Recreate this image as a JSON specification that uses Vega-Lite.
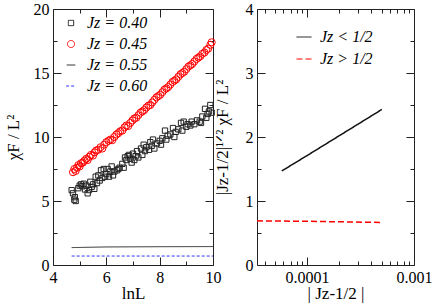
{
  "$schema": "https://vega.github.io/schema/vega-lite/v6.json",
  "background": "white",
  "padding": {"left": 3, "top": 0, "right": 4, "bottom": 2},
  "bounds": "flush",
  "spacing": 44,
  "config": {
    "view": {"stroke": "#222", "strokeWidth": 1},
    "axis": {"grid": false, "domain": false, "labelFont": "Liberation Serif, Times New Roman, serif", "labelFontSize": 16, "labelColor": "black", "titleFont": "Liberation Serif, Times New Roman, serif", "titleFontSize": 17, "titleFontWeight": "normal", "titleColor": "black", "tickColor": "#222", "labelFlush": false, "labelOverlap": false, "labelPadding": 12},
    "legend": {"labelFont": "Liberation Serif, Times New Roman, serif", "labelFontSize": 16, "labelFontStyle": "italic", "labelColor": "black", "padding": 0, "rowPadding": 5, "labelOffset": 8, "symbolStrokeWidth": 1}
  },
  "datasets": {
    "pts": [
      {"x":4.75,"y":7.25,"s":"Jz = 0.45"},{"x":4.80,"y":7.5,"s":"Jz = 0.45"},{"x":4.85,"y":7.35,"s":"Jz = 0.45"},{"x":4.90,"y":7.6,"s":"Jz = 0.45"},{"x":4.95,"y":7.8,"s":"Jz = 0.45"},{"x":5.00,"y":7.7,"s":"Jz = 0.45"},{"x":5.05,"y":7.95,"s":"Jz = 0.45"},{"x":5.12,"y":8.0,"s":"Jz = 0.45"},{"x":5.18,"y":8.15,"s":"Jz = 0.45"},{"x":5.25,"y":8.3,"s":"Jz = 0.45"},{"x":5.30,"y":8.2,"s":"Jz = 0.45"},{"x":5.36,"y":8.45,"s":"Jz = 0.45"},{"x":5.42,"y":8.6,"s":"Jz = 0.45"},{"x":5.50,"y":8.55,"s":"Jz = 0.45"},{"x":5.56,"y":8.8,"s":"Jz = 0.45"},{"x":5.62,"y":8.95,"s":"Jz = 0.45"},{"x":5.70,"y":9.0,"s":"Jz = 0.45"},{"x":5.78,"y":9.2,"s":"Jz = 0.45"},{"x":5.85,"y":9.1,"s":"Jz = 0.45"},{"x":5.92,"y":9.4,"s":"Jz = 0.45"},{"x":6.00,"y":9.6,"s":"Jz = 0.45"},{"x":6.08,"y":9.7,"s":"Jz = 0.45"},{"x":6.15,"y":9.8,"s":"Jz = 0.45"},{"x":6.22,"y":9.75,"s":"Jz = 0.45"},{"x":6.30,"y":10.0,"s":"Jz = 0.45"},{"x":6.38,"y":10.2,"s":"Jz = 0.45"},{"x":6.45,"y":10.3,"s":"Jz = 0.45"},{"x":6.52,"y":10.45,"s":"Jz = 0.45"},{"x":6.60,"y":10.5,"s":"Jz = 0.45"},{"x":6.68,"y":10.75,"s":"Jz = 0.45"},{"x":6.75,"y":10.9,"s":"Jz = 0.45"},{"x":6.82,"y":10.85,"s":"Jz = 0.45"},{"x":6.90,"y":11.1,"s":"Jz = 0.45"},{"x":6.98,"y":11.3,"s":"Jz = 0.45"},{"x":7.05,"y":11.45,"s":"Jz = 0.45"},{"x":7.12,"y":11.5,"s":"Jz = 0.45"},{"x":7.20,"y":11.7,"s":"Jz = 0.45"},{"x":7.28,"y":11.9,"s":"Jz = 0.45"},{"x":7.35,"y":12.0,"s":"Jz = 0.45"},{"x":7.42,"y":12.1,"s":"Jz = 0.45"},{"x":7.50,"y":12.3,"s":"Jz = 0.45"},{"x":7.58,"y":12.45,"s":"Jz = 0.45"},{"x":7.65,"y":12.5,"s":"Jz = 0.45"},{"x":7.72,"y":12.7,"s":"Jz = 0.45"},{"x":7.80,"y":12.9,"s":"Jz = 0.45"},{"x":7.88,"y":13.1,"s":"Jz = 0.45"},{"x":7.95,"y":13.2,"s":"Jz = 0.45"},{"x":8.02,"y":13.3,"s":"Jz = 0.45"},{"x":8.10,"y":13.5,"s":"Jz = 0.45"},{"x":8.18,"y":13.7,"s":"Jz = 0.45"},{"x":8.25,"y":13.8,"s":"Jz = 0.45"},{"x":8.32,"y":13.9,"s":"Jz = 0.45"},{"x":8.40,"y":14.1,"s":"Jz = 0.45"},{"x":8.48,"y":14.3,"s":"Jz = 0.45"},{"x":8.55,"y":14.4,"s":"Jz = 0.45"},{"x":8.62,"y":14.5,"s":"Jz = 0.45"},{"x":8.70,"y":14.7,"s":"Jz = 0.45"},{"x":8.78,"y":14.9,"s":"Jz = 0.45"},{"x":8.85,"y":15.0,"s":"Jz = 0.45"},{"x":8.92,"y":15.1,"s":"Jz = 0.45"},{"x":9.00,"y":15.3,"s":"Jz = 0.45"},{"x":9.08,"y":15.5,"s":"Jz = 0.45"},{"x":9.15,"y":15.6,"s":"Jz = 0.45"},{"x":9.22,"y":15.7,"s":"Jz = 0.45"},{"x":9.30,"y":15.9,"s":"Jz = 0.45"},{"x":9.38,"y":16.1,"s":"Jz = 0.45"},{"x":9.45,"y":16.2,"s":"Jz = 0.45"},{"x":9.52,"y":16.3,"s":"Jz = 0.45"},{"x":9.60,"y":16.5,"s":"Jz = 0.45"},{"x":9.68,"y":16.6,"s":"Jz = 0.45"},{"x":9.75,"y":16.8,"s":"Jz = 0.45"},{"x":9.82,"y":16.9,"s":"Jz = 0.45"},{"x":9.90,"y":17.2,"s":"Jz = 0.45"},{"x":9.95,"y":17.4,"s":"Jz = 0.45"},
      {"x":4.70,"y":5.85,"s":"Jz = 0.40"},{"x":4.75,"y":5.6,"s":"Jz = 0.40"},{"x":4.80,"y":5.1,"s":"Jz = 0.40"},{"x":4.82,"y":5.3,"s":"Jz = 0.40"},{"x":4.85,"y":5.0,"s":"Jz = 0.40"},{"x":4.95,"y":6.0,"s":"Jz = 0.40"},{"x":5.00,"y":6.2,"s":"Jz = 0.40"},{"x":5.05,"y":6.3,"s":"Jz = 0.40"},{"x":5.10,"y":6.15,"s":"Jz = 0.40"},{"x":5.15,"y":6.35,"s":"Jz = 0.40"},{"x":5.20,"y":5.9,"s":"Jz = 0.40"},{"x":5.25,"y":6.2,"s":"Jz = 0.40"},{"x":5.30,"y":5.6,"s":"Jz = 0.40"},{"x":5.35,"y":5.85,"s":"Jz = 0.40"},{"x":5.40,"y":6.5,"s":"Jz = 0.40"},{"x":5.45,"y":6.1,"s":"Jz = 0.40"},{"x":5.50,"y":6.3,"s":"Jz = 0.40"},{"x":5.55,"y":5.95,"s":"Jz = 0.40"},{"x":5.60,"y":6.9,"s":"Jz = 0.40"},{"x":5.65,"y":6.4,"s":"Jz = 0.40"},{"x":5.70,"y":7.0,"s":"Jz = 0.40"},{"x":5.75,"y":6.6,"s":"Jz = 0.40"},{"x":5.80,"y":7.4,"s":"Jz = 0.40"},{"x":5.85,"y":6.8,"s":"Jz = 0.40"},{"x":5.90,"y":7.5,"s":"Jz = 0.40"},{"x":5.95,"y":6.9,"s":"Jz = 0.40"},{"x":6.00,"y":7.1,"s":"Jz = 0.40"},{"x":6.05,"y":7.5,"s":"Jz = 0.40"},{"x":6.10,"y":6.9,"s":"Jz = 0.40"},{"x":6.15,"y":7.3,"s":"Jz = 0.40"},{"x":6.20,"y":7.7,"s":"Jz = 0.40"},{"x":6.25,"y":7.0,"s":"Jz = 0.40"},{"x":6.30,"y":7.3,"s":"Jz = 0.40"},{"x":6.40,"y":7.4,"s":"Jz = 0.40"},{"x":6.45,"y":7.5,"s":"Jz = 0.40"},{"x":6.50,"y":7.6,"s":"Jz = 0.40"},{"x":6.60,"y":7.9,"s":"Jz = 0.40"},{"x":6.65,"y":7.6,"s":"Jz = 0.40"},{"x":6.70,"y":8.4,"s":"Jz = 0.40"},{"x":6.75,"y":8.2,"s":"Jz = 0.40"},{"x":6.80,"y":8.5,"s":"Jz = 0.40"},{"x":6.85,"y":8.6,"s":"Jz = 0.40"},{"x":6.90,"y":8.3,"s":"Jz = 0.40"},{"x":6.95,"y":8.0,"s":"Jz = 0.40"},{"x":7.00,"y":8.7,"s":"Jz = 0.40"},{"x":7.05,"y":8.2,"s":"Jz = 0.40"},{"x":7.10,"y":8.5,"s":"Jz = 0.40"},{"x":7.15,"y":8.9,"s":"Jz = 0.40"},{"x":7.20,"y":8.4,"s":"Jz = 0.40"},{"x":7.30,"y":9.1,"s":"Jz = 0.40"},{"x":7.35,"y":8.6,"s":"Jz = 0.40"},{"x":7.40,"y":9.4,"s":"Jz = 0.40"},{"x":7.45,"y":8.9,"s":"Jz = 0.40"},{"x":7.50,"y":9.2,"s":"Jz = 0.40"},{"x":7.60,"y":9.0,"s":"Jz = 0.40"},{"x":7.65,"y":9.6,"s":"Jz = 0.40"},{"x":7.70,"y":9.3,"s":"Jz = 0.40"},{"x":7.75,"y":9.8,"s":"Jz = 0.40"},{"x":7.80,"y":9.1,"s":"Jz = 0.40"},{"x":7.90,"y":9.5,"s":"Jz = 0.40"},{"x":8.00,"y":9.7,"s":"Jz = 0.40"},{"x":8.05,"y":9.4,"s":"Jz = 0.40"},{"x":8.10,"y":9.9,"s":"Jz = 0.40"},{"x":8.20,"y":10.5,"s":"Jz = 0.40"},{"x":8.25,"y":9.8,"s":"Jz = 0.40"},{"x":8.30,"y":10.1,"s":"Jz = 0.40"},{"x":8.40,"y":10.2,"s":"Jz = 0.40"},{"x":8.50,"y":10.7,"s":"Jz = 0.40"},{"x":8.55,"y":10.0,"s":"Jz = 0.40"},{"x":8.60,"y":10.4,"s":"Jz = 0.40"},{"x":8.70,"y":10.6,"s":"Jz = 0.40"},{"x":8.80,"y":11.1,"s":"Jz = 0.40"},{"x":8.85,"y":10.5,"s":"Jz = 0.40"},{"x":8.90,"y":11.2,"s":"Jz = 0.40"},{"x":9.00,"y":10.8,"s":"Jz = 0.40"},{"x":9.05,"y":11.0,"s":"Jz = 0.40"},{"x":9.15,"y":10.9,"s":"Jz = 0.40"},{"x":9.20,"y":11.2,"s":"Jz = 0.40"},{"x":9.30,"y":11.0,"s":"Jz = 0.40"},{"x":9.40,"y":11.3,"s":"Jz = 0.40"},{"x":9.50,"y":11.2,"s":"Jz = 0.40"},{"x":9.55,"y":11.1,"s":"Jz = 0.40"},{"x":9.60,"y":11.6,"s":"Jz = 0.40"},{"x":9.70,"y":12.2,"s":"Jz = 0.40"},{"x":9.75,"y":11.5,"s":"Jz = 0.40"},{"x":9.80,"y":11.8,"s":"Jz = 0.40"},{"x":9.85,"y":12.0,"s":"Jz = 0.40"},{"x":9.90,"y":12.5,"s":"Jz = 0.40"},{"x":9.95,"y":11.9,"s":"Jz = 0.40"}
    ],
    "lns": [
      {"x":4.7,"y":1.36,"s":"Jz = 0.55"},{"x":6.0,"y":1.41,"s":"Jz = 0.55"},{"x":8.0,"y":1.43,"s":"Jz = 0.55"},{"x":10.0,"y":1.44,"s":"Jz = 0.55"},
      {"x":4.7,"y":0.7,"s":"Jz = 0.60"},{"x":10.0,"y":0.7,"s":"Jz = 0.60"}
    ],
    "right": [
      {"d":0.000058,"v":1.47,"c":"Jz < 1/2"},{"d":0.0001,"v":1.71,"c":"Jz < 1/2"},{"d":0.0002,"v":2.02,"c":"Jz < 1/2"},{"d":0.0005,"v":2.43,"c":"Jz < 1/2"},
      {"d":0.000034,"v":0.69,"c":"Jz > 1/2"},{"d":0.0001,"v":0.683,"c":"Jz > 1/2"},{"d":0.0005,"v":0.665,"c":"Jz > 1/2"}
    ]
  },
  "hconcat": [
    {
      "width": 160, "height": 256,
      "layer": [
        {
          "data": {"name": "pts"},
          "mark": {"type": "point", "filled": false, "strokeWidth": 1, "opacity": 1},
          "encoding": {
            "x": {"field": "x", "type": "quantitative", "scale": {"domain": [4, 10], "nice": false, "zero": false}, "axis": {"orient": "bottom", "values": [4, 6, 8, 10], "tickSize": -8, "title": "lnL", "titleY": 20}},
            "y": {"field": "y", "type": "quantitative", "scale": {"domain": [0, 20], "nice": false}, "axis": {"orient": "left", "values": [0, 5, 10, 15, 20], "tickSize": -8, "title": "χF / L²", "titleX": -31}},
            "color": {"field": "s", "type": "nominal", "scale": {"domain": ["Jz = 0.40", "Jz = 0.45", "Jz = 0.55", "Jz = 0.60"], "range": ["#222222", "#ff0000", "#222222", "#3333ff"]}, "legend": {"title": null, "orient": "none", "legendX": 10, "legendY": 6}},
            "shape": {"field": "s", "type": "nominal", "scale": {"domain": ["Jz = 0.40", "Jz = 0.45", "Jz = 0.55", "Jz = 0.60"], "range": ["square", "circle", "stroke", "stroke"]}, "legend": {"title": null, "orient": "none", "legendX": 10, "legendY": 6}},
            "size": {"field": "s", "type": "nominal", "scale": {"domain": ["Jz = 0.40", "Jz = 0.45", "Jz = 0.55", "Jz = 0.60"], "range": [28, 95, 169, 169]}, "legend": {"title": null, "orient": "none", "legendX": 10, "legendY": 6}}
          }
        },
        {
          "data": {"name": "lns"},
          "mark": {"type": "line", "strokeWidth": 1},
          "encoding": {
            "x": {"field": "x", "type": "quantitative", "axis": {"orient": "top", "values": [4, 6, 8, 10], "tickSize": -8, "labels": false, "title": null}},
            "y": {"field": "y", "type": "quantitative", "axis": {"orient": "right", "values": [0, 5, 10, 15, 20], "tickSize": -8, "labels": false, "title": null}},
            "color": {"field": "s", "type": "nominal", "scale": {"domain": ["Jz = 0.40", "Jz = 0.45", "Jz = 0.55", "Jz = 0.60"]}, "legend": {"title": null, "orient": "none", "legendX": 10, "legendY": 6}},
            "strokeDash": {"field": "s", "type": "nominal", "scale": {"domain": ["Jz = 0.40", "Jz = 0.45", "Jz = 0.55", "Jz = 0.60"], "range": [[1, 0], [1, 0], [1, 0], [3, 2]]}, "legend": {"title": null, "orient": "none", "legendX": 10, "legendY": 6}}
          }
        },
        {
          "data": {"name": "lns"},
          "mark": {"type": "line", "opacity": 0},
          "encoding": {
            "x": {"field": "x", "type": "quantitative", "axis": {"orient": "bottom", "values": [5, 7, 9], "tickSize": -4, "labels": false, "title": null}},
            "y": {"field": "y", "type": "quantitative", "axis": {"orient": "left", "values": [2.5, 7.5, 12.5, 17.5], "tickSize": -4, "labels": false, "title": null}}
          }
        },
        {
          "data": {"name": "lns"},
          "mark": {"type": "line", "opacity": 0},
          "encoding": {
            "x": {"field": "x", "type": "quantitative", "axis": {"orient": "top", "values": [5, 7, 9], "tickSize": -4, "labels": false, "title": null}},
            "y": {"field": "y", "type": "quantitative", "axis": {"orient": "right", "values": [2.5, 7.5, 12.5, 17.5], "tickSize": -4, "labels": false, "title": null}}
          }
        }
      ],
      "resolve": {"axis": {"x": "independent", "y": "independent"}}
    },
    {
      "width": 157, "height": 256,
      "data": {"name": "right"},
      "layer": [
        {
          "mark": {"type": "line", "strokeWidth": 1.5},
          "encoding": {
            "x": {"field": "d", "type": "quantitative", "scale": {"type": "log", "domain": [0.000034, 0.001], "nice": false}, "axis": {"orient": "bottom", "values": [0.0001, 0.001], "format": ".4~f", "tickSize": -8, "title": "| Jz-1/2 |", "titleY": 20}},
            "y": {"field": "v", "type": "quantitative", "scale": {"domain": [0, 4], "nice": false}, "axis": {"orient": "left", "values": [0, 1, 2, 3, 4], "tickSize": -8, "title": "|Jz-1/2|¹ᐟ² χF / L²", "titleX": -26}},
            "color": {"field": "c", "type": "nominal", "scale": {"domain": ["Jz < 1/2", "Jz > 1/2"], "range": ["#111111", "#ff0000"]}, "legend": {"title": null, "orient": "none", "legendX": 39, "legendY": 20, "symbolType": "stroke", "symbolSize": 225, "rowPadding": 6}},
            "strokeDash": {"field": "c", "type": "nominal", "scale": {"domain": ["Jz < 1/2", "Jz > 1/2"], "range": [[1, 0], [6, 3]]}, "legend": {"title": null, "orient": "none", "legendX": 39, "legendY": 20, "symbolType": "stroke", "symbolSize": 225, "rowPadding": 6}}
          }
        },
        {
          "mark": {"type": "line", "opacity": 0},
          "encoding": {
            "x": {"field": "d", "type": "quantitative", "axis": {"orient": "top", "values": [0.0001, 0.001], "tickSize": -8, "labels": false, "title": null}},
            "y": {"field": "v", "type": "quantitative", "axis": {"orient": "right", "values": [0, 1, 2, 3, 4], "tickSize": -8, "labels": false, "title": null}}
          }
        },
        {
          "mark": {"type": "line", "opacity": 0},
          "encoding": {
            "x": {"field": "d", "type": "quantitative", "axis": {"orient": "bottom", "values": [0.00004, 0.00005, 0.00006, 0.00007, 0.00008, 0.00009, 0.0002, 0.0003, 0.0004, 0.0005, 0.0006, 0.0007, 0.0008, 0.0009], "tickSize": -4, "labels": false, "title": null}},
            "y": {"field": "v", "type": "quantitative", "axis": {"orient": "left", "values": [0.5, 1.5, 2.5, 3.5], "tickSize": -4, "labels": false, "title": null}}
          }
        },
        {
          "mark": {"type": "line", "opacity": 0},
          "encoding": {
            "x": {"field": "d", "type": "quantitative", "axis": {"orient": "top", "values": [0.00004, 0.00005, 0.00006, 0.00007, 0.00008, 0.00009, 0.0002, 0.0003, 0.0004, 0.0005, 0.0006, 0.0007, 0.0008, 0.0009], "tickSize": -4, "labels": false, "title": null}},
            "y": {"field": "v", "type": "quantitative", "axis": {"orient": "right", "values": [0.5, 1.5, 2.5, 3.5], "tickSize": -4, "labels": false, "title": null}}
          }
        }
      ],
      "resolve": {"axis": {"x": "independent", "y": "independent"}}
    }
  ],
  "resolve": {"scale": {"color": "independent", "shape": "independent", "size": "independent", "strokeDash": "independent"}, "legend": {"color": "independent", "shape": "independent", "size": "independent", "strokeDash": "independent"}}
}
